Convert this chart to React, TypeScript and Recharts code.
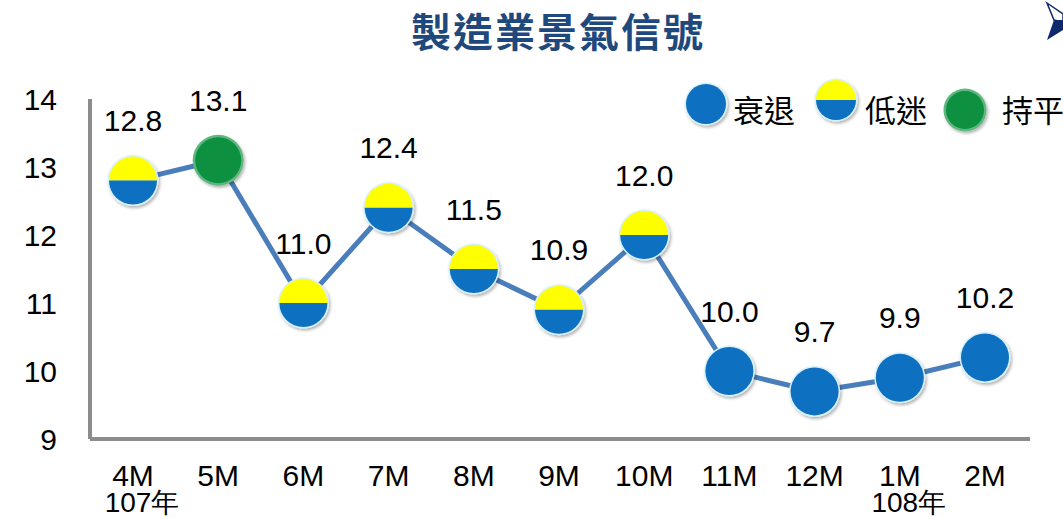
import { LineChart, Line, XAxis, YAxis, LabelList } from "recharts";

// 製造業景氣信號 (107/4 ~ 108/2)
const months = ["4M", "5M", "6M", "7M", "8M", "9M", "10M", "11M", "12M", "1M", "2M"];
const years = ["107年", "", "", "", "", "", "", "", "", "108年", ""];
const scores = [12.8, 13.1, 11.0, 12.4, 11.5, 10.9, 12.0, 10.0, 9.7, 9.9, 10.2];
const signals = ["low", "flat", "low", "low", "low", "low", "low", "down", "down", "down", "down"];
const yTicks = [9, 10, 11, 12, 13, 14];

const legendItems = [
  { key: "down", label: "衰退" },
  { key: "low", label: "低迷" },
  { key: "flat", label: "持平" },
];

const BLUE = "#0b6fc0";
const YELLOW = "#ffff00";
const GREEN = "#0a9141";
const FONT = "'Liberation Sans', Arial, sans-serif";
const CJK = "'Noto Sans CJK TC', sans-serif";

const data = months.map((m, i) => ({
  month: m,
  year: years[i],
  value: scores[i],
  signal: signals[i],
}));

function Signal({ cx, cy, r, type }: { cx: number; cy: number; r: number; type: string }) {
  if (type === "low") {
    return (
      <g filter="url(#dotShadow)">
        <circle cx={cx} cy={cy} r={r + 1.5} fill="#d8f1f8" />
        <path d={`M${cx - r},${cy} A${r},${r} 0 0 1 ${cx + r},${cy} Z`} fill={YELLOW} />
        <path d={`M${cx - r},${cy} A${r},${r} 0 0 0 ${cx + r},${cy} Z`} fill={BLUE} />
      </g>
    );
  }
  if (type === "flat") {
    return (
      <g filter="url(#dotShadow)">
        <circle cx={cx} cy={cy} r={r + 1.5} fill="#5fb77f" />
        <circle cx={cx} cy={cy} r={r - 1} fill={GREEN} />
      </g>
    );
  }
  return (
    <g filter="url(#dotShadow)">
      <circle cx={cx} cy={cy} r={r + 1.5} fill="#d8f1f8" />
      <circle cx={cx} cy={cy} r={r} fill={BLUE} />
    </g>
  );
}

const renderDot = (props: any) => {
  const { cx, cy, payload, index } = props;
  return <Signal key={`dot-${index}`} cx={cx} cy={cy} r={24} type={payload.signal} />;
};

const renderValue = (props: any) => {
  const { x, y, value, index } = props;
  return (
    <text
      key={`lbl-${index}`}
      x={x}
      y={y - 60}
      textAnchor="middle"
      dominantBaseline="central"
      fontSize={30}
      fontFamily={FONT}
      fill="#000"
    >
      {Number(value).toFixed(1)}
    </text>
  );
};

const MonthTick = (props: any) => {
  const { x, y, payload, index } = props;
  const yr = years[index];
  return (
    <g>
      <text x={x} y={y + 39} textAnchor="middle" fontSize={30} fontFamily={FONT} fill="#000">
        {payload.value}
      </text>
      {yr && (
        <text x={x + 9} y={y + 65} textAnchor="middle" fontSize={28} fontFamily={FONT} fill="#000">
          {yr}
        </text>
      )}
    </g>
  );
};

export default function App() {
  return (
    <div style={{ position: "absolute", left: 0, top: 0, width: 1063, height: 518, background: "#fff" }}>
      <svg width={0} height={0} style={{ position: "absolute" }}>
        <defs>
          <filter id="dotShadow" x="-30%" y="-30%" width="160%" height="160%">
            <feDropShadow dx="1.5" dy="2" stdDeviation="1.5" floodColor="#000" floodOpacity="0.3" />
          </filter>
        </defs>
      </svg>
      <LineChart
        width={1063}
        height={518}
        data={data}
        margin={{ top: 99, right: 33, bottom: 0, left: 0 }}
      >
        <XAxis
          dataKey="month"
          height={79}
          axisLine={{ stroke: "#8c8c8c", strokeWidth: 4 }}
          tickLine={false}
          interval={0}
          padding={{ left: 43, right: 45 }}
          tick={<MonthTick />}
        />
        <YAxis
          domain={[9, 14]}
          ticks={yTicks}
          width={90}
          axisLine={{ stroke: "#8c8c8c", strokeWidth: 4 }}
          tickLine={false}
          tickSize={0}
          tickMargin={33}
          tick={{ fontSize: 30, fontFamily: FONT, fill: "#000" }}
        />
        <Line
          type="linear"
          dataKey="value"
          stroke="#4a7ebb"
          strokeWidth={5}
          dot={renderDot}
          activeDot={false}
          isAnimationActive={false}
        >
          <LabelList dataKey="value" content={renderValue} />
        </Line>
      </LineChart>

      {/* title + corner arrow */}
      <svg width={1063} height={60} style={{ position: "absolute", left: 0, top: 0 }}>
        <text
          x={558}
          y={47}
          textAnchor="middle"
          fontFamily={CJK}
          fontWeight={700}
          fontSize={40}
          letterSpacing={2}
          fill="#1f497d"
        >
          製造業景氣信號
        </text>
        <polygon points="1047,3 1063,14 1063,22 1054,20" fill="#fff" stroke="#0e2a6a" strokeWidth={1.5} />
        <polygon points="1054,20 1063,20 1063,30 1047,40" fill="#0e2a6a" />
      </svg>

      {/* legend */}
      <svg width={400} height={70} style={{ position: "absolute", left: 680, top: 72 }}>
        {legendItems.map((item, i) => {
          const cx = [26, 156, 285][i];
          const cy = [32, 28, 38][i];
          const tx = [53, 185, 322][i];
          return (
            <g key={item.key}>
              <Signal cx={cx} cy={cy} r={20} type={item.key} />
              <text x={tx} y={50} fontSize={31} fontFamily={CJK} fill="#000">
                {item.label}
              </text>
            </g>
          );
        })}
      </svg>
    </div>
  );
}
